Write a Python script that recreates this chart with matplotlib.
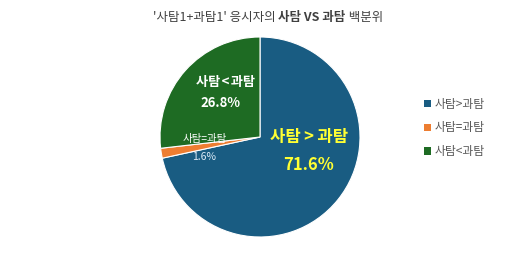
import matplotlib
matplotlib.use("Agg")
import matplotlib.pyplot as plt
from matplotlib.patches import Patch

plt.rcParams['font.family'] = ['Noto Sans CJK KR', 'DejaVu Sans']

categories = ['사탐>과탐', '사탐=과탐', '사탐<과탐']
values = [71.6, 1.6, 26.8]
colors = ['#195C82', '#ED7D31', '#1E6B23']
label_colors = ['#FFFF33', '#DDEBF7', '#FFFFFF']

W, H = 518, 261
fig = plt.figure(figsize=(W/100, H/100), dpi=100)
ax = fig.add_axes([160/W, 24/H, 200/W, 200/H])
ax.pie(values, colors=colors, startangle=90, counterclock=False, radius=1,
       wedgeprops=dict(edgecolor='white', linewidth=0.8))
ax.set_xlim(-1, 1)
ax.set_ylim(-1, 1)
ax.set_aspect('equal')
ax.axis('off')

def spaced(s, sp):
    return s.replace('>', sp + '>' + sp).replace('<', sp + '<' + sp)

# slice labels
ax.text(0.49, 0.0, spaced(categories[0], '\u2009'), color=label_colors[0], fontsize=12, fontweight='bold', ha='center', va='center')
ax.text(0.49, -0.28, f'{values[0]}%', color=label_colors[0], fontsize=12, fontweight='bold', ha='center', va='center')
ax.text(-0.35, 0.55, spaced(categories[2], '\u200a'), color=label_colors[2], fontsize=9.5, fontweight='bold', ha='center', va='center')
ax.text(-0.40, 0.34, f'{values[2]}%', color=label_colors[2], fontsize=9.5, fontweight='bold', ha='center', va='center')
ax.text(-0.55, -0.02, categories[1], color='#FFFFFF', fontsize=7.5, ha='center', va='center')
ax.text(-0.56, -0.20, f'{values[1]}%', color=label_colors[1], fontsize=7.5, ha='center', va='center')

# title with mixed weights
parts = [("'사탐1+과탐1' 응시자의 ", 'normal'), ('사탐 VS 과탐', 'bold'), (' 백분위', 'normal')]
fig.canvas.draw()
r = fig.canvas.get_renderer()
texts = []
for s, w in parts:
    t = fig.text(0, 1 - 17/H, s, fontsize=9, fontweight=w, color='#404040', va='center', ha='left')
    texts.append(t)
widths = [t.get_window_extent(r).width for t in texts]
total = sum(widths)
x = 268 - total/2
for t, wd in zip(texts, widths):
    t.set_x(x / W)
    x += wd

handles = [Patch(facecolor=c, edgecolor='none') for c in colors]
fig.legend(handles, categories, loc='center left', bbox_to_anchor=(413/W, 1 - 128/H),
           frameon=False, fontsize=8.5, labelcolor='#595959', handlelength=0.6, handleheight=0.6,
           handletextpad=0.3, labelspacing=0.9)

fig.savefig('out.png', dpi=100)
